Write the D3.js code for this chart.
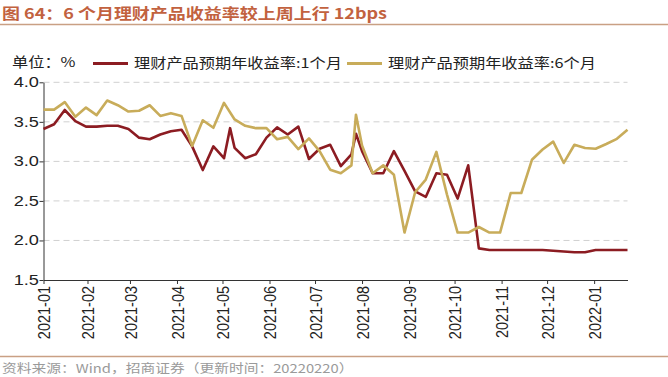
<!DOCTYPE html>
<html>
<head>
<meta charset="utf-8">
<script src="https://cdn.jsdelivr.net/npm/d3@7"></script>
<style>
  body { margin: 0; background: #fff; }
  svg { display: block; font-family: "Liberation Sans", Arial, "Noto Sans CJK SC", sans-serif; }
  .cjk { font-family: "Noto Sans CJK SC", sans-serif; }
</style>
</head>
<body>
<svg id="chart" width="668" height="377"></svg>
<script>
// weekly observations (two extra mid-week prints around holidays)
var dates = [
  "2021-01-03", "2021-01-10", "2021-01-17", "2021-01-24", "2021-01-31",
  "2021-02-07", "2021-02-14", "2021-02-21", "2021-02-28",
  "2021-03-07", "2021-03-14", "2021-03-21", "2021-03-28",
  "2021-04-04", "2021-04-11", "2021-04-18", "2021-04-25",
  "2021-05-02", "2021-05-06", "2021-05-09", "2021-05-16", "2021-05-23", "2021-05-30",
  "2021-06-06", "2021-06-13", "2021-06-20", "2021-06-27",
  "2021-07-04", "2021-07-11", "2021-07-18", "2021-07-25", "2021-07-28",
  "2021-08-01", "2021-08-08", "2021-08-15", "2021-08-22", "2021-08-29",
  "2021-09-05", "2021-09-12", "2021-09-19", "2021-09-26",
  "2021-10-03", "2021-10-10", "2021-10-17", "2021-10-24", "2021-10-31",
  "2021-11-07", "2021-11-14", "2021-11-21", "2021-11-28",
  "2021-12-05", "2021-12-12", "2021-12-19", "2021-12-26",
  "2022-01-02", "2022-01-09", "2022-01-16", "2022-01-23"
];
var yield1m = [
  3.41, 3.47, 3.65, 3.51, 3.44,
  3.44, 3.45, 3.45, 3.41,
  3.30, 3.28, 3.34, 3.38,
  3.40, 3.19, 2.89, 3.19,
  3.04, 3.42, 3.17, 3.04, 3.09, 3.30,
  3.43, 3.34, 3.44, 3.03,
  3.16, 3.21, 2.94, 3.09, 3.35,
  3.13, 2.85, 2.85, 3.13, 2.88,
  2.62, 2.55, 2.85, 2.83,
  2.53, 2.95, 1.90, 1.88, 1.88,
  1.88, 1.88, 1.88, 1.88,
  1.87, 1.86, 1.85, 1.85,
  1.88, 1.88, 1.88, 1.88
];
var yield6m = [
  3.655, 3.655, 3.75, 3.565, 3.68,
  3.585, 3.77, 3.71, 3.63,
  3.64, 3.71, 3.575, 3.61,
  3.575, 3.195, 3.52, 3.425,
  3.74, null, 3.53, 3.45, 3.42, 3.42,
  3.28, 3.31, 3.155, 3.29,
  3.13, 2.895, 2.85, 2.95, 3.59,
  3.20, 2.85, 2.95, 2.83, 2.10,
  2.61, 2.77, 3.12, 2.58,
  2.10, 2.10, 2.17, 2.10, 2.10,
  2.60, 2.60, 3.02, 3.15,
  3.25, 2.98, 3.21, 3.17,
  3.16, 3.22, 3.285, 3.40
];
var seriesNames = ["理财产品预期年收益率:1个月", "理财产品预期年收益率:6个月"];
var seriesColors = ["#8c1c22", "#c8ac5a"];
var yTicks = [1.5, 2.0, 2.5, 3.0, 3.5, 4.0];
var xTickDates = [
  "2021-01-03", "2021-02-01", "2021-03-01", "2021-04-01", "2021-05-01", "2021-06-01",
  "2021-07-01", "2021-08-01", "2021-09-01", "2021-10-01", "2021-11-01", "2021-12-01", "2022-01-01"
];
var xTickLabels = [
  "2021-01", "2021-02", "2021-03", "2021-04", "2021-05", "2021-06",
  "2021-07", "2021-08", "2021-09", "2021-10", "2021-11", "2021-12", "2022-01"
];

var parse = d3.timeParse("%Y-%m-%d"),
  stretchX = 1.2,
  plot = { left: 43.5, right: 627.5, top: 82.3, bottom: 280 },
  svg = d3.select("#chart");

var x = d3.scaleTime()
  .domain([parse(dates[0]), parse(dates[dates.length - 1])])
  .range([plot.left, plot.right]);
var y = d3.scaleLinear()
  .domain([d3.min(yTicks), d3.max(yTicks)])
  .range([plot.bottom, plot.top]);

// source picture is a bit wide, so text gets stretched sideways
function label(px, py, txt, size, cls) {
  return svg.append("text")
    .attr("class", cls || null)
    .attr("transform", "translate(" + px + "," + py + ") scale(" + stretchX + ",1)")
    .style("font-size", size + "px")
    .text(txt);
}

// title + rules
label(2, 19, "图 64：6 个月理财产品收益率较上周上行 12bps", 15, "cjk")
  .style("font-weight", "bold")
  .attr("fill", "#c2623f");
svg.append("line")
  .attr("x1", 0).attr("x2", 668).attr("y1", 24.5).attr("y2", 24.5)
  .attr("stroke", "#c9a084").attr("stroke-width", 1.5);
svg.append("line")
  .attr("x1", 0).attr("x2", 668).attr("y1", 356.5).attr("y2", 356.5)
  .attr("stroke", "#c9a084").attr("stroke-width", 1.5);
label(2, 373, "资料来源：Wind，招商证券（更新时间：20220220）", 12.3, "cjk")
  .attr("fill", "#9a9a9a");

// gridlines
svg.append("g").selectAll("line")
  .data(yTicks.filter(function(t) { return t > yTicks[0]; }))
  .enter().append("line")
  .attr("x1", plot.left).attr("x2", plot.right)
  .attr("y1", function(d) { return y(d); })
  .attr("y2", function(d) { return y(d); })
  .attr("stroke", "#d0d0d0")
  .attr("stroke-dasharray", "6,4");

// y axis
var yAxis = svg.append("g")
  .attr("transform", "translate(" + plot.left + ",0)")
  .call(d3.axisLeft(y).tickValues(yTicks).tickFormat(d3.format(".1f")).tickSize(4).tickSizeOuter(0));
yAxis.selectAll("text")
  .attr("x", -3.5)
  .attr("transform", "scale(1.3,1)")
  .style("font-size", "14px")
  .attr("fill", "#222");

// x axis
var xAxis = svg.append("g")
  .attr("transform", "translate(0," + plot.bottom + ")")
  .call(d3.axisBottom(x)
    .tickValues(xTickDates.map(parse))
    .tickFormat(function(d, i) { return xTickLabels[i]; })
    .tickSize(4).tickSizeOuter(0));
xAxis.selectAll("text")
  .attr("transform", "scale(" + stretchX + ",1) rotate(-90)")
  .attr("x", -6).attr("y", 0).attr("dy", "0.36em")
  .style("text-anchor", "end")
  .style("font-size", "14.5px")
  .attr("fill", "#222");
svg.selectAll(".domain, .tick line").attr("stroke", "#333");

// series
var line = d3.line()
  .x(function(d) { return x(d.date); })
  .y(function(d) { return y(d.v); });

[yield1m, yield6m].forEach(function(vals, s) {
  var pts = dates.map(function(d, i) { return { date: parse(d), v: vals[i] }; })
    .filter(function(p) { return p.v !== null; });
  svg.append("path")
    .datum(pts)
    .attr("d", line)
    .attr("fill", "none")
    .attr("stroke", seriesColors[s])
    .attr("stroke-width", 2.6)
    .attr("stroke-linejoin", "round");
});

// legend
label(12, 67, "单位：%", 13.5, "cjk").attr("fill", "#222");
var legendX = [93, 347];
seriesNames.forEach(function(name, i) {
  svg.append("line")
    .attr("x1", legendX[i]).attr("x2", legendX[i] + 35)
    .attr("y1", 63.5).attr("y2", 63.5)
    .attr("stroke", seriesColors[i]).attr("stroke-width", 3);
  label(legendX[i] + 41, 68, name, 13.5, "cjk").attr("fill", "#222");
});
</script>
</body>
</html>
